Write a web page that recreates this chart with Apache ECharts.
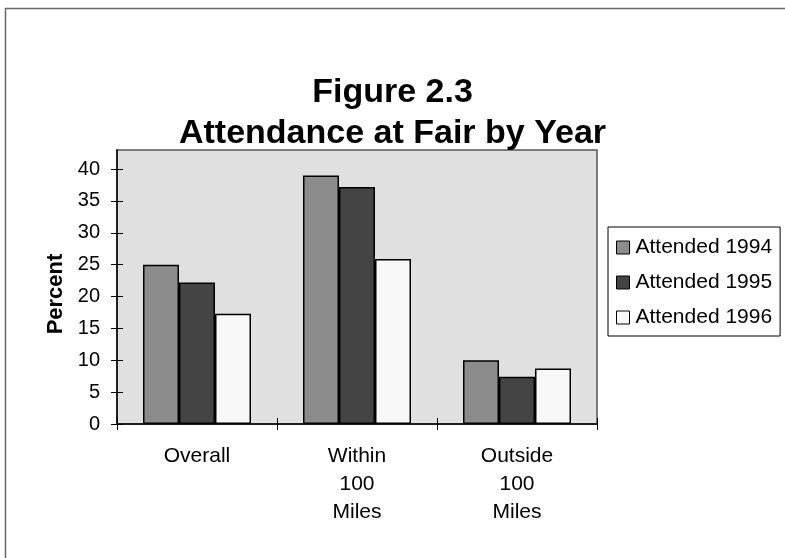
<!DOCTYPE html>
<html>
<head>
<meta charset="utf-8">
<script src="https://cdn.jsdelivr.net/npm/echarts@6/dist/echarts.min.js"></script>
<style>
  html, body { margin: 0; padding: 0; background: #fff; }
  #chart { width: 785px; height: 558px; }
</style>
</head>
<body>
<div id="chart"></div>
<script>
// Attendance share (percent) by visitor group and year
const categories = ['Overall', 'Within 100 Miles', 'Outside 100 Miles'];
const attended1994 = [25.0, 39.0, 10.0];
const attended1995 = [22.2, 37.2, 7.4];
const attended1996 = [17.3, 25.9, 8.7];
const seriesNames = ['Attended 1994', 'Attended 1995', 'Attended 1996'];
const yTicks = [0, 5, 10, 15, 20, 25, 30, 35, 40];

const FONT = '"Liberation Sans", Arial, sans-serif';
const fills = ['#8c8c8c', '#444444', '#f8f8f8'];
const seriesData = [attended1994, attended1995, attended1996];

const chart = echarts.init(document.getElementById('chart'), null, { renderer: 'canvas' });

const option = {
  backgroundColor: '#ffffff',
  animation: false,
  textStyle: { fontFamily: FONT },
  title: {
    text: 'Figure 2.3\nAttendance at Fair by Year',
    left: 'center',
    top: 67,
    textStyle: { fontFamily: FONT, fontSize: 34, fontWeight: 'bold', color: '#000', lineHeight: 41 }
  },
  legend: {
    orient: 'vertical',
    left: 608,
    top: 227,
    padding: [10, 8, 8, 8],
    itemGap: 14,
    itemWidth: 13,
    itemHeight: 13,
    itemStyle: { borderColor: '#000', borderWidth: 1 },
    borderColor: '#000',
    borderWidth: 1,
    icon: 'rect',
    textStyle: { fontFamily: FONT, fontSize: 21, color: '#000', lineHeight: 21, padding: [0, 0, 0, 1] },
    data: seriesNames
  },
  grid: {
    left: 117,
    right: 188,
    top: 150,
    bottom: 134,
    show: true,
    backgroundColor: '#e0e0e0',
    borderColor: '#555',
    borderWidth: 1.5,
    containLabel: false
  },
  xAxis: [{
    type: 'category',
    data: categories,
    position: 'bottom',
    axisLine: { lineStyle: { color: '#000', width: 1.5 } },
    axisTick: { show: true, alignWithLabel: false, length: 6, lineStyle: { color: '#000' } },
    axisLabel: {
      fontFamily: FONT, fontSize: 21, color: '#000', lineHeight: 28, margin: 18,
      formatter: v => v.split(' ').join('\n')
    },
    splitLine: { show: false }
  }, {
    // inner half of the crossing tick marks
    type: 'category',
    data: categories,
    position: 'bottom',
    axisLine: { show: false },
    axisTick: { show: true, inside: true, alignWithLabel: false, length: 6, lineStyle: { color: '#000' } },
    axisLabel: { show: false },
    splitLine: { show: false }
  }],
  yAxis: [{
    type: 'value',
    min: 0,
    max: 43,
    interval: 5,
    name: 'Percent',
    nameLocation: 'middle',
    nameGap: 49,
    nameRotate: 90,
    nameTextStyle: { fontFamily: FONT, fontSize: 22, fontWeight: 'bold', color: '#000', padding: [0, 14, 0, 0] },
    axisLine: { show: true, lineStyle: { color: '#000', width: 1.5 } },
    axisTick: { show: true, length: 6, customValues: yTicks, lineStyle: { color: '#000' } },
    axisLabel: { fontFamily: FONT, fontSize: 20, color: '#000', margin: 17, customValues: yTicks },
    splitLine: { show: false }
  }, {
    // inner half of the crossing tick marks
    type: 'value',
    min: 0,
    max: 43,
    interval: 5,
    position: 'left',
    axisLine: { show: false },
    axisTick: { show: true, inside: true, length: 6, customValues: yTicks, lineStyle: { color: '#000' } },
    axisLabel: { show: false },
    splitLine: { show: false }
  }],
  series: seriesNames.map((name, i) => ({
    name: name,
    type: 'bar',
    xAxisIndex: 0,
    yAxisIndex: 0,
    data: seriesData[i],
    barGap: '0%',
    barCategoryGap: '32.5%',
    itemStyle: { color: fills[i], borderColor: '#000', borderWidth: 1.5 }
  })),
  graphic: [{
    type: 'rect',
    silent: true,
    z: -1,
    shape: { x: 5.5, y: 8.5, width: 820, height: 600 },
    style: { fill: 'none', stroke: '#666', lineWidth: 1.5 }
  }]
};

chart.setOption(option);
</script>
</body>
</html>
